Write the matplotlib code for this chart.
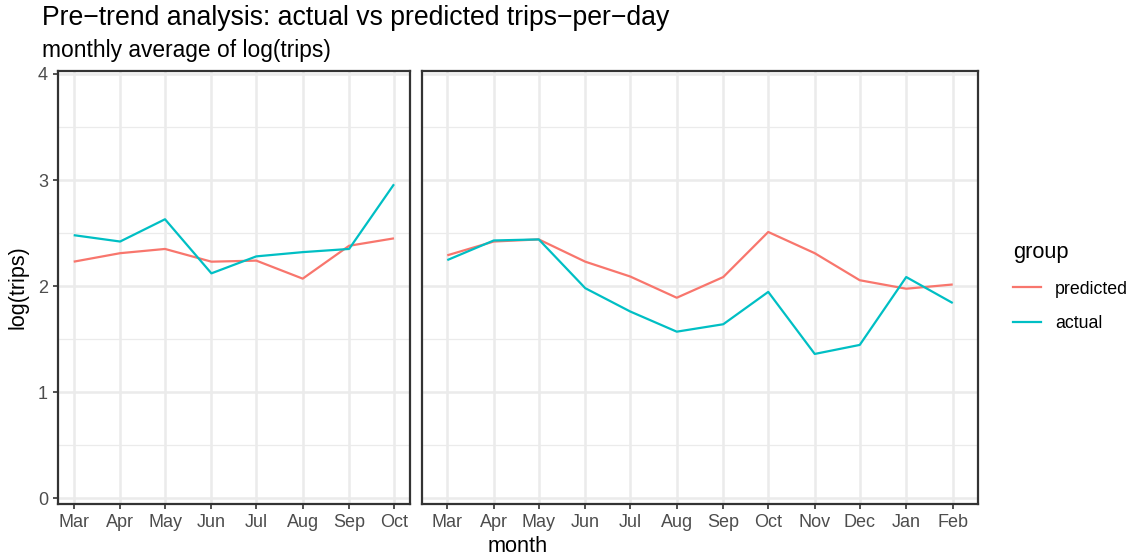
import datetime as dt
import matplotlib
matplotlib.use("Agg")
import matplotlib.pyplot as plt
import matplotlib.dates as mdates
from matplotlib.lines import Line2D
from matplotlib.ticker import FixedLocator, MultipleLocator, FormatStrFormatter

plt.rcParams["font.family"] = ["Liberation Sans", "DejaVu Sans"]

# Pre-period (left panel) and post-period (right panel) monthly means of log(trips)
pre_labels = ["Mar", "Apr", "May", "Jun", "Jul", "Aug", "Sep", "Oct"]
pre_dates = [dt.date(2019, m, 1) for m in range(3, 11)]
pre_predicted = [2.23, 2.31, 2.35, 2.23, 2.24, 2.07, 2.38, 2.45]
pre_actual = [2.48, 2.42, 2.63, 2.12, 2.28, 2.32, 2.35, 2.96]

post_labels = ["Mar", "Apr", "May", "Jun", "Jul", "Aug", "Sep", "Oct", "Nov", "Dec", "Jan", "Feb"]
post_dates = [dt.date(2020, m, 1) for m in range(3, 13)] + [dt.date(2021, 1, 1), dt.date(2021, 2, 1)]
post_predicted = [2.29, 2.42, 2.44, 2.23, 2.09, 1.89, 2.085, 2.51, 2.31, 2.055, 1.975, 2.015]
post_actual = [2.245, 2.43, 2.44, 1.98, 1.76, 1.57, 1.64, 1.945, 1.36, 1.445, 2.085, 1.84]

group_names = ["predicted", "actual"]
group_colors = ["#F8766D", "#00BFC4"]

W, H = 1135, 558
fig = plt.figure(figsize=(W / 100, H / 100), dpi=100)
fig.patch.set_facecolor("white")

def frac_box(x0, x1, y0, y1):
    return [x0 / W, 1 - y1 / H, (x1 - x0) / W, (y1 - y0) / H]

ax_pre = fig.add_axes(frac_box(57.7, 410, 71, 504))
ax_post = fig.add_axes(frac_box(422, 978, 71, 504))

grid_col = "#EBEBEB"
border_col = "#333333"
text_col = "#4D4D4D"
tick_size = 13.0

def style_panel(ax, dates, labels, series):
    for vals, col in zip(series, group_colors):
        ax.plot(dates, vals, color=col, lw=1.6, solid_capstyle="butt", zorder=3)
    nums = mdates.date2num(dates)
    span = nums[-1] - nums[0]
    ax.set_xlim(nums[0] - 0.05 * span, nums[-1] + 0.05 * span)
    ax.set_ylim(-0.055, 4.028)
    ax.xaxis.set_major_locator(FixedLocator(nums))
    ax.set_xticklabels(labels)
    ax.yaxis.set_major_locator(MultipleLocator(1))
    ax.yaxis.set_major_formatter(FormatStrFormatter("%g"))
    ax.yaxis.set_minor_locator(MultipleLocator(0.5))
    ax.grid(which="major", color=grid_col, lw=1.8, zorder=0)
    ax.grid(which="minor", axis="y", color=grid_col, lw=0.9, zorder=0)
    ax.set_axisbelow(True)
    for sp in ax.spines.values():
        sp.set_color(border_col)
        sp.set_linewidth(1.6)
    ax.tick_params(which="major", length=3.5, width=1.2, color=border_col,
                   labelcolor=text_col, labelsize=tick_size, pad=3.5)
    ax.tick_params(which="minor", length=0)

style_panel(ax_pre, pre_dates, pre_labels, [pre_predicted, pre_actual])
style_panel(ax_post, post_dates, post_labels, [post_predicted, post_actual])
ax_post.tick_params(axis="y", left=False, labelleft=False)

ax_pre.set_ylabel("log(trips)", fontsize=15.5, color="black", labelpad=7)
fig.text(518 / W, 1 - 546 / H, "month", ha="center", va="center", fontsize=15.7)

fig.text(42 / W, 1 - 18 / H, "Pre\u2212trend analysis: actual vs predicted trips\u2212per\u2212day",
         ha="left", va="center", fontsize=19.2)
fig.text(42 / W, 1 - 50 / H, "monthly average of log(trips)",
         ha="left", va="center", fontsize=16.4)

handles = [Line2D([], [], color=c, lw=1.6) for c in group_colors]
fig.legend(handles, group_names, title="group", loc="center left",
           bbox_to_anchor=(997 / W, 1 - 287 / H), frameon=False,
           fontsize=12.8, title_fontsize=15.7, handlelength=1.57,
           handletextpad=0.8, labelspacing=1.0, alignment="left")

fig.savefig("out.png", dpi=100, facecolor="white")
